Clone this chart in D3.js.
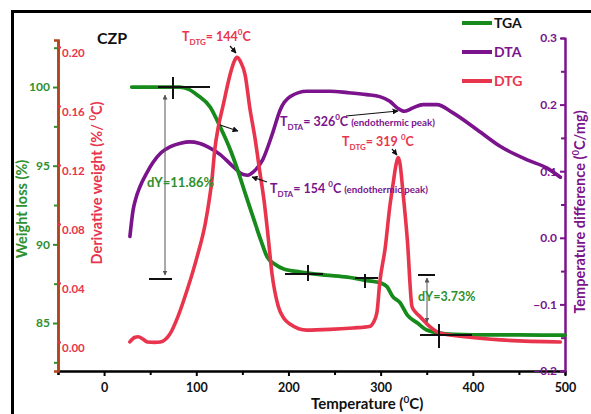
<!DOCTYPE html>
<html><head><meta charset="utf-8">
<script src="https://cdn.jsdelivr.net/npm/d3@7"></script>
<style>body{margin:0;background:#fff}svg{display:block}text{font-family:Lato,"Open Sans",sans-serif;font-weight:700}</style>
</head><body>
<svg id="c" width="591" height="414"></svg>
<script>
// ---- data ----
const xTicks = [0, 100, 200, 300, 400, 500];
const xMinor = [-50, 50, 150, 250, 350, 450];
const wTicks = [85, 90, 95, 100];
const wMinor = [82.5, 87.5, 92.5, 97.5, 102.5];
const dTicks = [0.00, 0.04, 0.08, 0.12, 0.16, 0.20];
const tTicks = [-0.2, -0.1, 0.0, 0.1, 0.2, 0.3];
const tMinor = [-0.15, -0.05, 0.05, 0.15, 0.25];

const tgaT = [30, 60, 82, 92, 101, 115, 126, 137, 146, 153, 162, 170, 177, 185, 195, 213, 240, 264, 285, 300, 307, 313, 321, 329, 340, 350, 364, 380, 400, 450, 500];
const tgaW = [100, 100, 100, 99.85, 99.5, 98.73, 97.46, 96.0, 94.53, 93.26, 91.67, 90.27, 89.19, 88.75, 88.43, 88.24, 88.05, 87.92, 87.7, 87.54, 87.3, 86.7, 86.3, 85.5, 85.0, 84.55, 84.36, 84.28, 84.25, 84.24, 84.23];

const dtgT = [28, 33, 37, 42, 47, 55, 61, 67, 72, 80, 90, 101, 110, 114, 117, 120, 124, 129, 137, 141, 144, 148, 153, 158, 164, 169, 173.5, 178, 182, 189, 195, 202, 220, 245, 270, 288, 292, 296, 299, 305, 310, 313, 317, 319, 321, 324, 329, 334, 338, 343, 354, 364, 394, 430, 495];
const dtgV = [0.000, 0.003, 0.0035, 0.002, 0.000, -0.0003, 0.000, 0.002, 0.006, 0.017, 0.035, 0.058, 0.081, 0.096, 0.110, 0.130, 0.146, 0.160, 0.182, 0.190, 0.193, 0.190, 0.181, 0.159, 0.137, 0.115, 0.096, 0.071, 0.047, 0.024, 0.016, 0.012, 0.008, 0.0085, 0.0095, 0.0105, 0.013, 0.020, 0.040, 0.064, 0.092, 0.105, 0.121, 0.125, 0.121, 0.103, 0.069, 0.024, 0.020, 0.017, 0.010, 0.006, 0.0034, 0.0014, 0.000];

const dtaT = [28, 31.5, 34, 39, 46.5, 53, 62, 72, 83, 93, 103, 112, 126, 140, 151, 156, 162, 172, 183, 191, 202, 220, 245, 264, 285, 299, 310, 318, 326, 335, 346, 361, 378, 405, 430, 459, 480, 495];
const dtaV = [0.002, 0.042, 0.057, 0.077, 0.098, 0.113, 0.128, 0.137, 0.142, 0.144, 0.142, 0.137, 0.125, 0.107, 0.095, 0.094, 0.099, 0.117, 0.158, 0.192, 0.212, 0.220, 0.220, 0.218, 0.215, 0.212, 0.205, 0.195, 0.190, 0.195, 0.200, 0.200, 0.188, 0.162, 0.137, 0.117, 0.105, 0.091];

const legendNames = ["TGA", "DTA", "DTG"];

// ---- colours ----
const GREEN = "#178a1c", PURPLE = "#7a138c", RED = "#e8344c", BROWN = "#b0441c", LGREEN = "#2e8f2e";
const seriesColors = [GREEN, PURPLE, RED];

const svg = d3.select("#c");
// frame
svg.append("rect").attr("x", 12.5).attr("y", 11.5).attr("width", 600).attr("height", 420)
  .attr("fill", "none").attr("stroke", "#000").attr("stroke-width", 3);

// scales
const x = d3.scaleLinear().domain([-50, 500]).range([58, 565]);
const yW = d3.scaleLinear().domain([81.95, 102.99]).range([371, 40]);
const yD = d3.scaleLinear().domain([-0.0197, 0.2047]).range([371, 40]);
const yT = d3.scaleLinear().domain([-0.2, 0.3]).range([371, 38]);

// bottom axis
const gx = svg.append("g").attr("transform", "translate(0,371)");
gx.call(d3.axisBottom(x).tickValues(xTicks).tickSize(5).tickSizeOuter(0).tickFormat(d3.format("d")));
gx.append("g").call(d3.axisBottom(x).tickValues(xMinor).tickSize(4).tickFormat(""));
gx.selectAll("path.domain").attr("stroke", "#000").attr("stroke-width", 2.2);
gx.selectAll("line").attr("stroke", "#000").attr("stroke-width", 2);
gx.selectAll("text").attr("font-size", 12.5).attr("fill", "#111").attr("dy", "1.0em").attr("font-family", "Lato");

// left weight axis (green ticks/labels, brown spine)
const gW = svg.append("g").attr("transform", "translate(58,0)");
gW.call(d3.axisLeft(yW).tickValues(wTicks).tickSize(5).tickSizeOuter(0).tickFormat(d3.format("d")));
gW.append("g").call(d3.axisLeft(yW).tickValues(wMinor).tickSize(4).tickFormat(""));
gW.selectAll("path.domain").attr("stroke", BROWN).attr("stroke-width", 2.5);
gW.selectAll("line").attr("stroke", LGREEN).attr("stroke-width", 2);
gW.selectAll("text").attr("font-size", 12).attr("fill", LGREEN).attr("font-family", "Lato");

// derivative axis (red labels to the right)
const gD = svg.append("g").attr("transform", "translate(58,0)");
gD.call(d3.axisRight(yD).tickValues(dTicks).tickSize(3).tickSizeOuter(0).tickFormat(d3.format(".2f")));
gD.selectAll("path.domain").remove();
gD.selectAll("line").attr("stroke", RED).attr("stroke-width", 2);
gD.selectAll("text").attr("font-size", 11.5).attr("fill", RED).attr("x", 4).attr("dy", "0.85em").attr("font-family", "Lato");

// right temperature-difference axis
const gT = svg.append("g").attr("transform", "translate(565,0)");
gT.call(d3.axisLeft(yT).tickValues(tTicks).tickSize(5).tickSizeOuter(0).tickFormat(d3.format(".1f")));
gT.append("g").call(d3.axisLeft(yT).tickValues(tMinor).tickSize(4).tickFormat(""));
gT.selectAll("path.domain").attr("stroke", PURPLE).attr("stroke-width", 2);
gT.selectAll("line").attr("stroke", PURPLE).attr("stroke-width", 2);
gT.selectAll("text").attr("font-size", 12).attr("fill", PURPLE).attr("font-family", "Lato");

// ---- rich text helper ----
function rich(px, py, parts, color, rotate) {
  const t = svg.append("text").attr("fill", color);
  if (rotate) t.attr("transform", `translate(${px},${py}) rotate(${rotate})`).attr("text-anchor", "middle");
  else t.attr("x", px).attr("y", py);
  let prev = 0;
  parts.forEach(p => {
    const s = p[2] || 0;
    t.append("tspan").attr("font-size", p[1]).attr("dy", s - prev).text(p[0]);
    prev = s;
  });
  return t;
}

// axis titles
rich(311, 409, [["Temperature (", 15], ["0", 10, -6], ["C)", 15, 0]], "#111");
rich(27, 209, [["Weight loss (%)", 14.5]], LGREEN, -90);
rich(102, 183, [["Derivative  weight (%/ ", 14.5], ["0", 9.5, -6], ["C)", 14.5, 0]], RED, -90);
rich(585, 212, [["Temperature difference (", 14.5], ["0", 9.5, -6], ["C/mg)", 14.5, 0]], PURPLE, -90);

// ---- curves ----
const line = (ys) => d3.line().x(d => x(d[0])).y(d => ys(d[1])).curve(d3.curveMonotoneX);
svg.append("path").datum(dtaT.map((t, i) => [t, dtaV[i]])).attr("d", line(yT))
  .attr("fill", "none").attr("stroke", PURPLE).attr("stroke-width", 3.6).attr("stroke-linecap", "round");
svg.append("path").datum(tgaT.map((t, i) => [t, tgaW[i]])).attr("d", line(yW))
  .attr("fill", "none").attr("stroke", GREEN).attr("stroke-width", 3.8).attr("stroke-linecap", "round");
svg.append("path").datum(dtgT.map((t, i) => [t, dtgV[i]])).attr("d", line(yD))
  .attr("fill", "none").attr("stroke", RED).attr("stroke-width", 3.6).attr("stroke-linecap", "round");

// ---- annotation marks ----
const defs = svg.append("defs");
function marker(id, col) {
  defs.append("marker").attr("id", id).attr("viewBox", "0 0 10 10").attr("refX", 9).attr("refY", 5)
    .attr("markerWidth", 5).attr("markerHeight", 5).attr("orient", "auto-start-reverse")
    .append("path").attr("d", "M0,0L10,5L0,10z").attr("fill", col);
}
marker("ah", "#111"); marker("ag", "#555");
function arrow(x1, y1, x2, y2, both, col, w) {
  const l = svg.append("line").attr("x1", x1).attr("y1", y1).attr("x2", x2).attr("y2", y2)
    .attr("stroke", col || "#111").attr("stroke-width", w || 1.2)
    .attr("marker-end", `url(#${col === "#555" ? "ag" : "ah"})`);
  if (both) l.attr("marker-start", `url(#${col === "#555" ? "ag" : "ah"})`);
}
function seg(x1, y1, x2, y2, w) {
  svg.append("line").attr("x1", x1).attr("y1", y1).attr("x2", x2).attr("y2", y2)
    .attr("stroke", "#111").attr("stroke-width", w || 2);
}
// crosshairs
seg(158, 87, 210, 87); seg(173, 77, 173, 99);
seg(285, 274, 323, 274); seg(308, 265, 308, 281);
seg(355, 278, 378, 278); seg(365, 274, 365, 288);
seg(420, 335, 472, 335); seg(439, 324, 439, 348);
seg(149, 279, 172, 279);
seg(418, 275, 435, 275);
// dY arrows
arrow(165, 95, 165, 275, true, "#555", 1);
arrow(427, 278, 427, 322, true, "#555", 1);
// pointer arrows
arrow(230, 46, 236, 53);
arrow(220, 125, 238, 131);
arrow(346, 116, 398, 111);
arrow(267, 182, 252, 177);
arrow(392, 149, 397, 155);

// ---- labels ----
rich(97, 44, [["CZP", 16]], "#111");
rich(182, 41, [["T", 12.5], ["DTG", 8, 4], ["= 144", 12.5, 0], ["0", 8, -6], ["C", 12.5, 0]], RED);
rich(280, 126, [["T", 12.5], ["DTA", 8, 4], ["= 326", 12.5, 0], ["0", 8, -6], ["C ", 12.5, 0], ["(endothermic peak)", 9.8, 0]], PURPLE);
rich(342, 146, [["T", 12.5], ["DTG", 8, 4], ["= 319 ", 12.5, 0], ["0", 8, -6], ["C", 12.5, 0]], RED);
rich(270, 193, [["T", 12.5], ["DTA", 8, 4], ["= 154 ", 12.5, 0], ["0", 8, -6], ["C ", 12.5, 0], ["(endothermic peak)", 9.8, 0]], PURPLE);
rich(147, 187, [["dY=11.86%", 13]], LGREEN);
rich(418, 301, [["dY=3.73%", 12.5]], LGREEN);

// legend
const leg = svg.append("g");
legendNames.forEach((n, i) => {
  const yy = 23 + i * 29;
  leg.append("line").attr("x1", 462).attr("x2", 492).attr("y1", yy).attr("y2", yy)
    .attr("stroke", seriesColors[i]).attr("stroke-width", 4);
  leg.append("text").attr("x", 494).attr("y", yy + 5).attr("font-size", 14)
    .attr("fill", i === 0 ? "#111" : seriesColors[i]).text(n);
});
</script>
</body></html>
